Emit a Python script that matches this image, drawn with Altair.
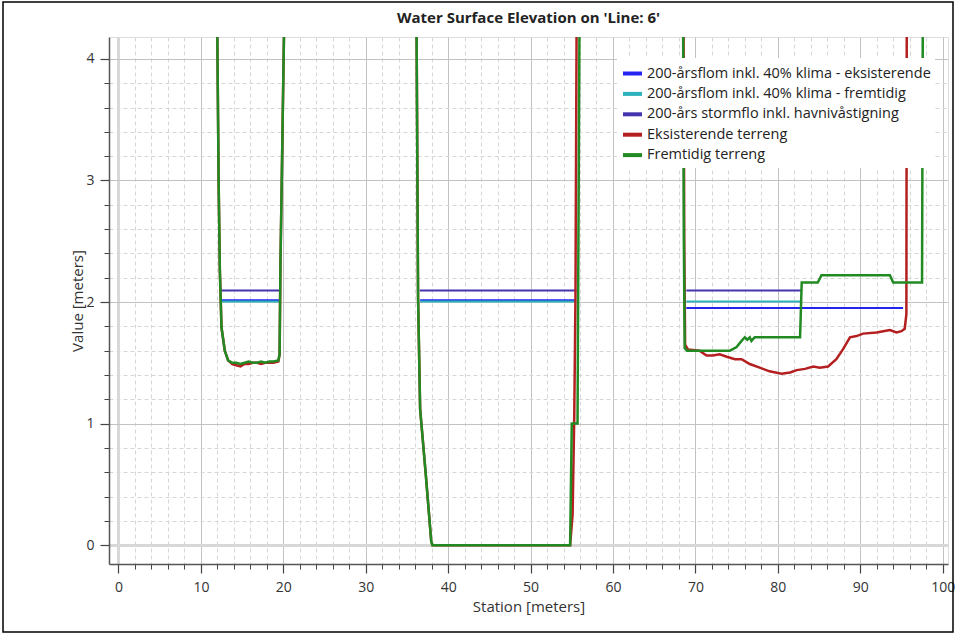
import altair as alt
import pandas as pd

# ---------------- data ----------------
series = [
    "200-årsflom inkl. 40% klima - eksisterende",
    "200-årsflom inkl. 40% klima - fremtidig",
    "200-års stormflo inkl. havnivåstigning",
    "Eksisterende terreng",
    "Fremtidig terreng",
]
colors = ["#2323F2", "#2DB2BC", "#4434AE", "#B42020", "#228A22"]

# water surface segments (start station, end station, elevation)
eks_start = [12.40, 36.60, 68.90]
eks_end = [19.60, 55.50, 95.20]
eks_wse = [2.015, 2.015, 1.95]

fremt_start = [12.42, 36.60, 68.90]
fremt_end = [19.60, 55.50, 82.70]
fremt_wse = [2.005, 2.005, 2.005]

storm_start = [12.37, 36.55, 68.90]
storm_end = [19.60, 55.57, 82.90]
storm_wse = [2.095, 2.095, 2.095]

# terrain profiles (values above the plot top are clipped)
eks_ter_st = [11.95, 12.15, 12.30, 12.50, 12.90, 13.30, 13.80, 14.30, 14.80, 15.30, 15.80,
              16.30, 16.80, 17.30, 17.80, 18.30, 18.80, 19.40, 19.55, 19.65, 20.15,
              36.15, 36.35, 36.60, 37.30, 37.95, 38.10, 54.80, 55.10, 55.30, 55.45, 55.60,
              68.55, 68.65, 68.75, 69.10, 70.50, 71.35, 72.10, 72.95, 73.80, 74.80, 75.60,
              76.60, 77.80, 79.00, 80.45, 81.50, 82.30, 83.30, 84.30, 85.10, 86.10, 87.10,
              87.90, 88.75, 89.55, 90.35, 91.98, 92.80, 93.60, 94.40, 95.00, 95.40, 95.60, 95.65]
eks_ter_z = [4.50, 3.00, 2.26, 1.79, 1.60, 1.52, 1.49, 1.48, 1.47, 1.49, 1.49,
             1.50, 1.50, 1.49, 1.50, 1.50, 1.50, 1.51, 1.57, 2.30, 4.50,
             4.50, 2.04, 1.12, 0.57, 0.03, 0.00, 0.00, 0.25, 1.05, 2.05, 4.50,
             4.50, 2.50, 1.65, 1.61, 1.60, 1.56, 1.56, 1.57, 1.55, 1.53, 1.53,
             1.49, 1.46, 1.43, 1.41, 1.42, 1.44, 1.45, 1.47, 1.46, 1.47, 1.53,
             1.61, 1.71, 1.72, 1.74, 1.75, 1.76, 1.77, 1.75, 1.76, 1.78, 1.90, 4.50]

fremt_ter_st = [11.95, 12.15, 12.30, 12.50, 12.90, 13.30, 13.80, 14.30, 14.80, 15.30, 15.80,
                16.30, 16.80, 17.30, 17.80, 18.30, 18.80, 19.40, 19.55, 19.65, 20.15,
                36.15, 36.35, 36.60, 37.30, 37.95, 38.10, 54.80, 55.00, 55.70, 55.95,
                68.50, 68.60, 68.70, 69.00, 74.20, 75.00, 75.60, 76.00, 76.30, 76.60,
                76.80, 77.20, 82.70, 82.90, 84.85, 85.30, 93.60, 94.00, 97.50, 97.60]
fremt_ter_z = [4.50, 3.00, 2.26, 1.79, 1.60, 1.52, 1.50, 1.50, 1.49, 1.50, 1.51,
               1.50, 1.50, 1.51, 1.50, 1.51, 1.51, 1.52, 1.57, 2.30, 4.50,
               4.50, 2.04, 1.12, 0.57, 0.03, 0.00, 0.00, 1.00, 1.00, 4.50,
               4.50, 2.50, 1.62, 1.60, 1.60, 1.63, 1.68, 1.71, 1.69, 1.71,
               1.68, 1.71, 1.71, 2.16, 2.16, 2.22, 2.22, 2.16, 2.16, 4.50]

x_major = [0, 10, 20, 30, 40, 50, 60, 70, 80, 90, 100]
x_minor = [2, 4, 6, 8, 12, 14, 16, 18, 22, 24, 26, 28, 32, 34, 36, 38, 42, 44, 46, 48,
           52, 54, 56, 58, 62, 64, 66, 68, 72, 74, 76, 78, 82, 84, 86, 88, 92, 94, 96, 98]
y_major = [0, 1, 2, 3, 4]
y_minor = [0.2, 0.4, 0.6, 0.8, 1.2, 1.4, 1.6, 1.8, 2.2, 2.4, 2.6, 2.8,
           3.2, 3.4, 3.6, 3.8, 4.2]

# ---------------- tables ----------------
rows = []
for name, st, en, z in [(series[0], eks_start, eks_end, eks_wse),
                        (series[1], fremt_start, fremt_end, fremt_wse),
                        (series[2], storm_start, storm_end, storm_wse)]:
    for i in range(len(st)):
        rows.append({"series": name, "seg": i, "station": st[i], "elev": z[i]})
        rows.append({"series": name, "seg": i, "station": en[i], "elev": z[i]})
water_df = pd.DataFrame(rows)

trows = []
for name, st, z in [(series[3], eks_ter_st, eks_ter_z), (series[4], fremt_ter_st, fremt_ter_z)]:
    for i in range(len(st)):
        trows.append({"series": name, "idx": i, "station": st[i], "elev": z[i]})
ter_df = pd.DataFrame(trows)

FONT = "Open Sans"
xscale = alt.Scale(domain=[-1.15, 100.65], nice=False, zero=False)
yscale = alt.Scale(domain=[-0.155, 4.18], nice=False, zero=False)
cscale = alt.Scale(domain=series, range=colors)

legend = alt.Legend(
    orient="none", legendX=508, legendY=21, title=None,
    fillColor="white", padding=4, symbolType="stroke", symbolStrokeWidth=4,
    symbolSize=361, labelFont=FONT, labelFontSize=14.5, labelColor="#222222",
    labelLimit=500, rowPadding=0.4, labelOffset=3,
)

minor_x_axis = alt.Axis(values=x_minor, orient="bottom", labels=False, title=None, domain=False,
                        tickSize=5, tickColor="#444444", grid=True, gridColor="#d6d6d6",
                        gridDash=[4, 3], gridWidth=1)
minor_y_axis = alt.Axis(values=y_minor, orient="left", labels=False, title=None, domain=False,
                        tickSize=5, tickColor="#444444", grid=True, gridColor="#d6d6d6",
                        gridDash=[4, 3], gridWidth=1)

major_x_axis = alt.Axis(values=x_major, orient="bottom", title="Station [meters]",
                        tickSize=9, tickColor="#444444", tickWidth=1.2,
                        domain=True, domainColor="#555555", domainWidth=1.5,
                        labelFont=FONT, labelFontSize=14, labelColor="#333333", labelPadding=7,
                        titleFont=FONT, titleFontSize=15, titleFontWeight="normal",
                        titleColor="#333333", titlePadding=5,
                        grid=True,
                        gridColor=alt.condition("datum.value == 0", alt.value("#d8d8d8"), alt.value("#c2c2c2")),
                        gridWidth=alt.condition("datum.value == 0", alt.value(3), alt.value(1)))
major_y_axis = alt.Axis(values=y_major, orient="left", title="Value [meters]",
                        tickSize=9, tickColor="#444444", tickWidth=1.2,
                        domain=True, domainColor="#555555", domainWidth=1.5,
                        labelFont=FONT, labelFontSize=14, labelColor="#333333", labelPadding=6,
                        titleFont=FONT, titleFontSize=15, titleFontWeight="normal",
                        titleColor="#333333", titlePadding=0,
                        grid=True,
                        gridColor=alt.condition("datum.value == 0", alt.value("#d8d8d8"), alt.value("#c2c2c2")),
                        gridWidth=alt.condition("datum.value == 0", alt.value(3), alt.value(1)))

water = alt.Chart(water_df).mark_line(strokeWidth=2, clip=True).encode(
    x=alt.X("station:Q", scale=xscale, axis=minor_x_axis),
    y=alt.Y("elev:Q", scale=yscale, axis=minor_y_axis),
    color=alt.Color("series:N", scale=cscale, legend=legend),
    detail="seg:N",
)

terrain = alt.Chart(ter_df).mark_line(strokeWidth=2.5, clip=True).encode(
    x=alt.X("station:Q", scale=xscale, axis=major_x_axis),
    y=alt.Y("elev:Q", scale=yscale, axis=major_y_axis),
    color=alt.Color("series:N", scale=cscale, legend=legend),
    order="idx:Q",
)

frame = alt.Chart(pd.DataFrame({"a": [0]})).mark_rect(
    filled=False, stroke="black", strokeWidth=1.5
).encode(
    x=alt.value(-106), x2=alt.value(844), y=alt.value(-35), y2=alt.value(595)
)

chart = alt.layer(water, terrain, frame).resolve_axis(
    x="independent", y="independent"
).resolve_scale(x="shared", y="shared").properties(
    width=839, height=527,
    autosize=alt.AutoSizeParams(type="none"),
    padding={"left": 109, "top": 37, "right": 9, "bottom": 74},
    title=alt.TitleParams("Water Surface Elevation on 'Line: 6'", font=FONT, fontSize=15,
                          fontWeight="bold", color="#222222", anchor="middle", offset=0,
                          dy=25, frame="group"),
).configure_view(stroke="#666666", strokeWidth=1.5).configure(background="white")

chart.save("out.html", embed_options={"renderer": "svg", "actions": False})
